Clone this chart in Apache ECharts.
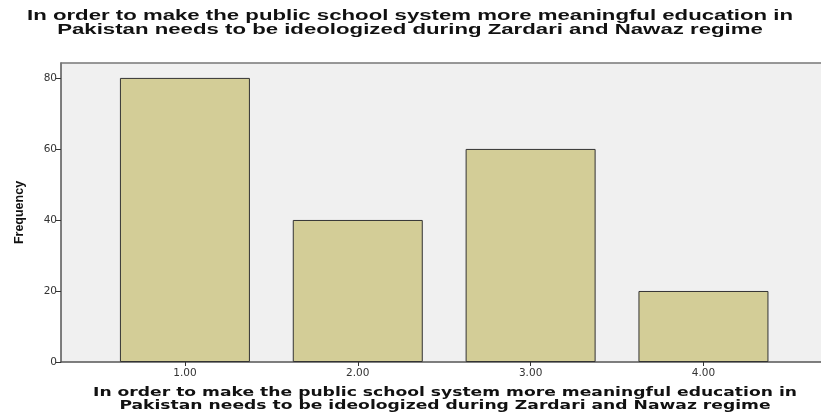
<!DOCTYPE html>
<html><head><meta charset="utf-8">
<script src="https://cdn.jsdelivr.net/npm/echarts@6/dist/echarts.min.js"></script>
<style>html,body{margin:0;padding:0;background:#fff}#c{width:821px;height:415px}</style>
</head><body><div id="c"></div>
<script>
const titleLines = ["In order to make the public school system more meaningful education in", "Pakistan needs to be ideologized during Zardari and Nawaz regime"];
const categories = [1, 2, 3, 4];
const frequencies = [80, 40, 60, 20];
const yTicks = [0, 20, 40, 60, 80];
const yName = "Frequency";

const ctx = document.createElement('canvas').getContext('2d');
function fitScale(text, font, target) {
  ctx.font = font;
  return target / ctx.measureText(text).width;
}
const topFont = "bold 15px 'Liberation Sans'";
const botFont = "bold 12.5px 'DejaVu Sans'";
const sTop = fitScale(titleLines[0], topFont, 766);
const sBot = fitScale(titleLines[0], botFont, 704);

function txt(text, x, y, font, s) {
  const m = font.match(/([\d.]+)px '(.+)'/);
  return { type: 'text', x: x, y: y, scaleX: s, silent: true,
    style: { text: text, fontSize: +m[1], fontFamily: m[2], fontWeight: 'bold', fill: '#111', align: 'center', verticalAlign: 'middle' } };
}

const chart = echarts.init(document.getElementById('c'));
chart.setOption({
  animation: false,
  graphic: [
    txt(titleLines[0], 410, 16, topFont, sTop),
    txt(titleLines[1], 410, 30, topFont, sTop),
    txt(titleLines[0], 445, 392.5, botFont, sBot),
    txt(titleLines[1], 445, 405.5, botFont, sBot)
  ],
  grid: { left: 61, top: 63, right: 0, bottom: 53, show: true, backgroundColor: '#f0f0f0', borderWidth: 0 },
  xAxis: [{
    type: 'value', min: 0.283, max: 4.68, position: 'bottom',
    axisLine: { show: true, lineStyle: { color: '#555', width: 1.5 } },
    axisTick: { show: true, length: 4, customValues: categories, lineStyle: { color: '#333' } },
    axisLabel: { customValues: categories, formatter: v => v.toFixed(2), fontFamily: 'DejaVu Sans', fontSize: 10.5, color: '#333', margin: 6 },
    splitLine: { show: false }
  }, {
    type: 'value', min: 0.283, max: 4.68, position: 'top',
    axisLine: { show: true, lineStyle: { color: '#777', width: 1.5 } },
    axisTick: { show: false }, axisLabel: { show: false }, splitLine: { show: false }
  }],
  yAxis: {
    type: 'value', min: 0, max: 84.2,
    name: yName, nameLocation: 'middle', nameGap: 35, nameRotate: 90,
    nameTextStyle: { fontFamily: 'Liberation Sans', fontWeight: 'bold', fontSize: 12.5, color: '#111' },
    axisLine: { show: true, lineStyle: { color: '#555', width: 1.5 } },
    axisTick: { show: true, length: 5, customValues: yTicks, lineStyle: { color: '#333' } },
    axisLabel: { customValues: yTicks, fontFamily: 'DejaVu Sans', fontSize: 10.5, color: '#333', margin: 4 },
    splitLine: { show: false }
  },
  series: [{
    type: 'bar', xAxisIndex: 0, barWidth: 130,
    data: categories.map((c, i) => [c, frequencies[i]]),
    itemStyle: { color: '#d3cd97', borderColor: '#333', borderWidth: 1 }
  }]
});
</script></body></html>
